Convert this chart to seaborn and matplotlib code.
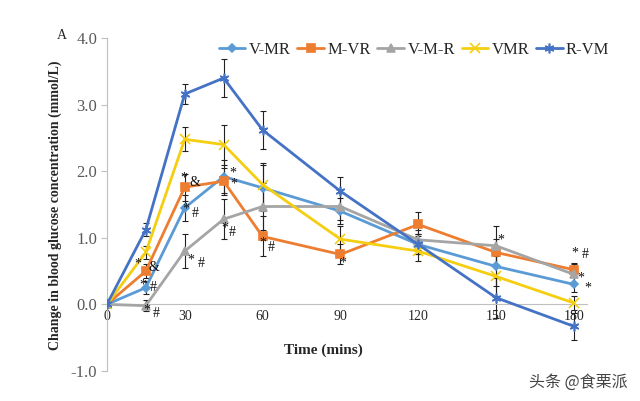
import seaborn as sns
import matplotlib.pyplot as plt
import pandas as pd

# Dados
tempo = [0, 15, 30, 45, 60, 90, 120, 150, 180]
grupos = ['V-MR', 'M-VR', 'V-M-R', 'VMR', 'R-VM']
v_mr = [0, 0.25, 1.45, 1.92, 1.75, 1.40, 0.90, 0.57, 0.30]
m_vr = [0, 0.50, 1.76, 1.85, 1.02, 0.75, 1.20, 0.78, 0.52]
v_m_r = [0, -0.02, 0.80, 1.28, 1.47, 1.47, 0.97, 0.88, 0.45]
vmr = [0, 0.78, 2.48, 2.40, 1.80, 0.98, 0.80, 0.42, 0.02]
r_vm = [0, 1.12, 3.16, 3.40, 2.62, 1.70, 0.90, 0.10, -0.33]
err_v_mr = [0, 0.10, 0.20, 0.25, 0.35, 0.20, 0.15, 0.30, 0.12]
err_m_vr = [0, 0.10, 0.20, 0.20, 0.30, 0.15, 0.18, 0.20, 0.10]
err_v_m_r = [0, 0.08, 0.25, 0.30, 0.35, 0.20, 0.15, 0.30, 0.15]
err_vmr = [0, 0.10, 0.18, 0.30, 0.33, 0.20, 0.15, 0.30, 0.10]
err_r_vm = [0, 0.10, 0.15, 0.28, 0.28, 0.22, 0.15, 0.30, 0.20]
y_ticks = [-1.0, 0.0, 1.0, 2.0, 3.0, 4.0]
x_ticks = [0, 30, 60, 90, 120, 150, 180]

# marcas de significância (tempo, valor, texto)
notas = [(12.0, 0.60, '*'), (18.0, 0.55, '&'), (14.0, 0.29, '*'), (18.0, 0.26, '#'),
         (15.5, -0.08, '*'), (19.0, -0.14, '#'), (29.8, 1.90, '*'), (34.0, 1.83, '&'),
         (30.3, 1.43, '*'), (34.0, 1.37, '#'), (32.3, 0.66, '*'), (36.5, 0.62, '#'),
         (48.5, 1.98, '*'), (48.8, 1.80, '*'), (45.4, 1.14, '*'), (48.5, 1.08, '#'),
         (60.0, 0.92, '*'), (63.5, 0.86, '#'), (91.0, 0.62, '*'), (152.0, 0.96, '*'),
         (180.5, 0.77, '*'), (184.5, 0.75, '#'), (182.5, 0.40, '*'), (185.5, 0.24, '*')]

medias = [v_mr, m_vr, v_m_r, vmr, r_vm]
erros = [err_v_mr, err_m_vr, err_v_m_r, err_vmr, err_r_vm]
df = pd.DataFrame({
    'tempo': tempo * len(grupos),
    'valor': sum(medias, []),
    'grupo': [g for g in grupos for _ in tempo],
})

cores = ['#5B9BD5', '#ED7D31', '#A5A5A5', '#F5CE12', '#4472C4']
marcadores = ['D', 's', '^', 'x', (6, 2, 0)]
tamanhos = [4, 6, 6, 7, 7]

sns.set_style('white')
plt.rcParams['font.family'] = ['Liberation Serif', 'DejaVu Serif']

fig = plt.figure(figsize=(6.4, 4.01), dpi=100)
ax = fig.add_axes([0.167, 0.075, 0.75, 0.83])

for m, e in zip(medias, erros):
    ax.errorbar(tempo, m, yerr=e, fmt='none', ecolor='#222222', elinewidth=0.8,
                capsize=2.5, capthick=0.8, zorder=2)
for g, c, mk, ms in zip(grupos, cores, marcadores, tamanhos):
    sub = df[df['grupo'] == g]
    sns.lineplot(data=sub, x='tempo', y='valor', ax=ax, color=c, marker=mk,
                 markersize=ms, markeredgecolor=c, markeredgewidth=1.2,
                 linewidth=2, label=g, zorder=3)

for x, y, t in notas:
    ax.text(x, y, t, fontsize=10, ha='center', va='center', color='#111111', clip_on=False)

ax.set_xlim(0, 185)
ax.set_ylim(-1.0, 4.0)
ax.set_yticks(y_ticks)
ax.set_yticklabels([f'{v:.1f}' for v in y_ticks], fontsize=12, color='#595959')
ax.set_xticks(x_ticks)
ax.set_xticklabels([str(v) for v in x_ticks], fontsize=12, color='#595959')
for s in ['top', 'right']:
    ax.spines[s].set_visible(False)
ax.spines['bottom'].set_position(('data', 0))
ax.spines['bottom'].set_color('#BFBFBF')
ax.spines['left'].set_color('#BFBFBF')
ax.tick_params(axis='x', length=0, pad=4)
ax.tick_params(axis='y', length=4, color='#BFBFBF', direction='out', left=True, pad=3)
ax.grid(False)

ax.set_xlabel('')
ax.set_ylabel('Change in blood glucose concentration (mmol/L)', fontsize=10,
              fontweight='bold')
ax.yaxis.set_label_coords(-0.094, 0.497)
fig.text(0.505, 0.127, 'Time (mins)', fontsize=11, fontweight='bold', ha='center', va='center')
fig.text(0.097, 0.912, 'A', fontsize=10, ha='center', va='center')
fig.text(0.903, 0.047, '头条 @食栗派', fontsize=11.5, color='#444444', ha='center', va='center',
         family=['Noto Sans CJK SC', 'DejaVu Sans'])

ax.legend(loc='center', bbox_to_anchor=(0.64, 0.964), ncol=5, frameon=False,
          fontsize=12, handlelength=1.6, handletextpad=0.2, columnspacing=0.4,
          borderaxespad=0)

plt.savefig('out.png', dpi=100)
